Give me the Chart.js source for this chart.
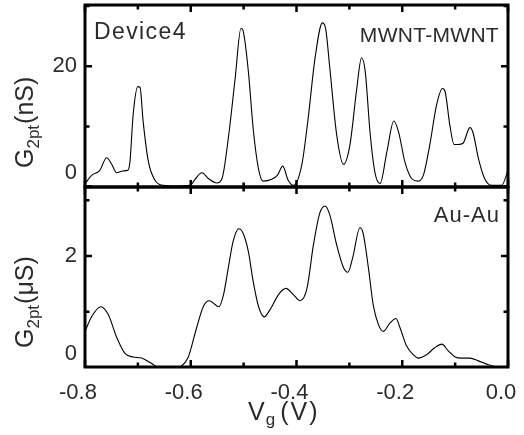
<!DOCTYPE html>
<html>
<head>
<meta charset="utf-8">
<script src="https://cdn.jsdelivr.net/npm/chart.js@4/dist/chart.umd.min.js"></script>
<style>
  html, body { margin: 0; padding: 0; background: #fff; }
  #wrap { position: relative; width: 524px; height: 435px; }
</style>
</head>
<body>
<div id="wrap"><canvas id="chart" width="524" height="435"></canvas></div>
<script>
// Gate sweep, MWNT-MWNT junction (conductance in nS)
const gateVoltageTop = [
  -0.800, -0.787, -0.772, -0.759, -0.750, -0.740, -0.728, -0.719, -0.715, -0.709,
  -0.700, -0.696, -0.690, -0.680, -0.668, -0.652, -0.630, -0.601, -0.592, -0.579,
  -0.566, -0.551, -0.541, -0.529, -0.516, -0.505, -0.501, -0.491, -0.482, -0.472,
  -0.463, -0.447, -0.436, -0.426, -0.416, -0.406, -0.390, -0.378, -0.365, -0.351,
  -0.345, -0.337, -0.324, -0.311, -0.299, -0.286, -0.277, -0.270, -0.261, -0.252,
  -0.242, -0.229, -0.216, -0.207, -0.195, -0.182, -0.170, -0.160, -0.148, -0.135,
  -0.124, -0.119, -0.110, -0.102, -0.094, -0.085, -0.072, -0.066, -0.056, -0.044,
  -0.031, -0.012, -0.003, 0.000
];
const conductanceTopNs = [
  0.5, 1.9, 2.7, 4.8, 3.8, 2.3, 2.6, 2.7, 4.1, 11.9,
  16.6, 16.5, 10.8, 4.1, 1.1, 0.2, 0.1, 0.2, 1.2, 2.3,
  1.3, 0.6, 1.3, 8.0, 18.0, 26.3, 25.9, 19.1, 9.7, 3.0,
  0.9, 1.2, 1.9, 3.4, 1.1, 0.2, 3.6, 11.3, 21.3, 27.2,
  26.3, 19.7, 8.6, 3.7, 6.9, 16.3, 21.4, 19.1, 9.1, 2.5,
  0.5, 5.8, 10.9, 9.1, 4.1, 1.3, 0.9, 1.9, 6.9, 13.6,
  16.3, 15.8, 10.2, 7.0, 7.0, 7.2, 9.8, 8.9, 4.7, 1.3,
  0.2, 0.2, 1.9, 3.0
];

// Gate sweep, Au-Au electrodes (conductance in µS)
const gateVoltageBottom = [
  -0.800, -0.787, -0.770, -0.756, -0.740, -0.724, -0.709, -0.693, -0.677, -0.664,
  -0.649, -0.635, -0.620, -0.605, -0.589, -0.576, -0.565, -0.554, -0.547, -0.538,
  -0.529, -0.520, -0.509, -0.501, -0.491, -0.482, -0.472, -0.461, -0.450, -0.434,
  -0.420, -0.406, -0.393, -0.380, -0.368, -0.356, -0.346, -0.337, -0.324, -0.311,
  -0.303, -0.294, -0.280, -0.274, -0.264, -0.255, -0.245, -0.236, -0.223, -0.212,
  -0.204, -0.192, -0.179, -0.170, -0.154, -0.138, -0.125, -0.113, -0.100, -0.088,
  -0.072, -0.056, -0.037, -0.018, 0.000
];
const conductanceBottomUs = [
  0.65, 0.92, 1.09, 0.95, 0.54, 0.25, 0.19, 0.17, 0.09, 0.01,
  -0.05, -0.05, 0.01, 0.18, 0.71, 1.10, 1.20, 1.13, 1.09, 1.31,
  1.79, 2.26, 2.49, 2.41, 2.08, 1.55, 1.10, 0.91, 1.04, 1.31,
  1.42, 1.31, 1.20, 1.43, 2.20, 2.77, 2.90, 2.74, 2.20, 1.79,
  1.71, 1.96, 2.51, 2.41, 1.79, 1.13, 0.77, 0.65, 0.80, 0.88,
  0.71, 0.39, 0.23, 0.17, 0.23, 0.36, 0.42, 0.30, 0.19, 0.17,
  0.17, 0.12, 0.05, 0.01, -0.01
];

// Tick values
const xTickValues = [-0.8, -0.6, -0.4, -0.2, 0.0];
const xMinorTicks = [-0.7, -0.5, -0.3, -0.1];
const topTickLabels = [0, 20];
const topMinorTicks = [10, 30];
const bottomTickLabels = [0, 2];
const bottomMinorTicks = [1, 3];

const TEXT_COLOR = '#2b2b2b';
const fontStr = size => size + 'px "Liberation Sans", Arial, sans-serif';
const toPoints = (xs, ys) => xs.map((v, i) => ({ x: v, y: ys[i] }));

// Draws a run of text pieces (main text and subscripts) starting at (x, y).
function drawPieces(ctx, pieces, x, y) {
  let cx = x;
  for (const p of pieces) {
    ctx.font = fontStr(p.size);
    ctx.letterSpacing = (p.spacing || 0) + 'px';
    ctx.fillText(p.text, cx, y + (p.shift || 0));
    cx += ctx.measureText(p.text).width + (p.gap || 0);
  }
  ctx.letterSpacing = '0px';
}

// Frames, inward ticks, y tick labels, axis titles and panel captions.
const panelDecor = {
  id: 'panelDecor',
  afterDatasetsDraw(chart) {
    const { ctx, scales } = chart;
    const xs = scales.x;
    const panels = [
      { ys: scales.yTop, major: topTickLabels, minor: topMinorTicks },
      { ys: scales.yBottom, major: bottomTickLabels, minor: bottomMinorTicks }
    ];
    ctx.save();
    ctx.strokeStyle = '#000';
    ctx.lineCap = 'butt';
    const MAJOR = 7, MINOR = 4.5;

    for (const p of panels) {
      const top = p.ys.top, bottom = p.ys.bottom, left = xs.left, right = xs.right;
      ctx.lineWidth = 2.5;
      ctx.beginPath();
      const xTicks = [...xTickValues.map(v => [v, MAJOR]), ...xMinorTicks.map(v => [v, MINOR])];
      for (const [v, len] of xTicks) {
        const px = xs.getPixelForValue(v);
        ctx.moveTo(px, top); ctx.lineTo(px, top + len);
        ctx.moveTo(px, bottom); ctx.lineTo(px, bottom - len);
      }
      const yTicks = [...p.major.map(v => [v, MAJOR]), ...p.minor.map(v => [v, MINOR])];
      for (const [v, len] of yTicks) {
        const py = p.ys.getPixelForValue(v);
        if (py < top || py > bottom) continue;
        ctx.moveTo(left, py); ctx.lineTo(left + len, py);
        ctx.moveTo(right, py); ctx.lineTo(right - len, py);
      }
      ctx.stroke();

      ctx.lineWidth = 3;
      ctx.strokeRect(left, top, right - left, bottom - top);

      // y tick labels; the zero label sits a little above the bottom border
      ctx.fillStyle = TEXT_COLOR;
      ctx.font = fontStr(22);
      ctx.textAlign = 'right';
      ctx.textBaseline = 'middle';
      for (const v of p.major) {
        const py = p.ys.getPixelForValue(v) - (v === 0 ? 14 : 0);
        ctx.fillText(String(v), left - 8, py);
      }
    }

    // y axis titles (rotated, with subscript)
    ctx.textAlign = 'left';
    ctx.textBaseline = 'alphabetic';
    ctx.fillStyle = TEXT_COLOR;
    const yTitles = [
      { ys: scales.yTop, unit: '(nS)' },
      { ys: scales.yBottom, unit: '(\u03BCS)' }
    ];
    for (const t of yTitles) {
      ctx.save();
      ctx.translate(33, t.ys.bottom - 19);
      ctx.rotate(-Math.PI / 2);
      drawPieces(ctx, [
        { text: 'G', size: 25 },
        { text: '2pt', size: 17, shift: 6, gap: 1 },
        { text: t.unit, size: 25 }
      ], 0, 0);
      ctx.restore();
    }

    // x axis title
    drawPieces(ctx, [
      { text: 'V', size: 25, gap: 1 },
      { text: 'g', size: 17, shift: 5, gap: 5 },
      { text: '(V)', size: 25, spacing: 2 }
    ], 248, 420);

    // panel captions
    const yt = scales.yTop, yb = scales.yBottom;
    ctx.font = fontStr(23);
    ctx.letterSpacing = '1.4px';
    ctx.textAlign = 'left';
    ctx.fillText('Device4', xs.left + 9, yt.top + 34);
    ctx.font = fontStr(21);
    ctx.letterSpacing = '0.3px';
    ctx.textAlign = 'right';
    ctx.fillText('MWNT-MWNT', xs.right - 9, yt.top + 37);
    ctx.font = fontStr(22);
    ctx.letterSpacing = '1px';
    ctx.fillText('Au-Au', xs.right - 8, yb.top + 35);
    ctx.letterSpacing = '0px';
    ctx.restore();
  }
};

const hiddenY = {
  type: 'linear',
  position: 'left',
  stack: 'panels',
  ticks: { display: false },
  grid: { display: false, drawTicks: false },
  border: { display: false },
  afterFit(scale) { scale.width = 85; }
};

new Chart(document.getElementById('chart'), {
  type: 'line',
  data: {
    datasets: [
      { data: toPoints(gateVoltageTop, conductanceTopNs), yAxisID: 'yTop' },
      { data: toPoints(gateVoltageBottom, conductanceBottomUs), yAxisID: 'yBottom' }
    ]
  },
  options: {
    responsive: false,
    animation: false,
    devicePixelRatio: 1,
    events: [],
    layout: { padding: { left: 0, right: 16, top: 5, bottom: 0 } },
    plugins: { legend: { display: false }, tooltip: { enabled: false } },
    elements: {
      point: { radius: 0 },
      line: { borderColor: '#000', borderWidth: 1.1, cubicInterpolationMode: 'monotone', fill: false }
    },
    scales: {
      // left-stacked axes are laid out bottom-first, so the lower panel is listed first
      yBottom: Object.assign({}, hiddenY, { min: 0.01, max: 3.24, stackWeight: 180 }),
      yTop: Object.assign({}, hiddenY, { min: -0.07, max: 30.17, stackWeight: 182 }),
      x: {
        type: 'linear',
        position: 'bottom',
        min: -0.8,
        max: 0,
        grid: { display: false, drawTicks: false },
        border: { display: false },
        afterBuildTicks(scale) { scale.ticks = xTickValues.map(v => ({ value: v })); },
        ticks: {
          autoSkip: false,
          maxRotation: 0,
          padding: 13,
          labelOffset: -7,
          color: TEXT_COLOR,
          font: { family: '"Liberation Sans", Arial, sans-serif', size: 22 },
          callback: v => (Math.abs(v) < 1e-9 ? '0.0' : v.toFixed(1))
        },
        afterFit(scale) {
          scale.height = 68;
          scale.paddingLeft = 0;
          scale.paddingRight = 0;
        }
      }
    }
  },
  plugins: [panelDecor]
});
</script>
</body>
</html>
